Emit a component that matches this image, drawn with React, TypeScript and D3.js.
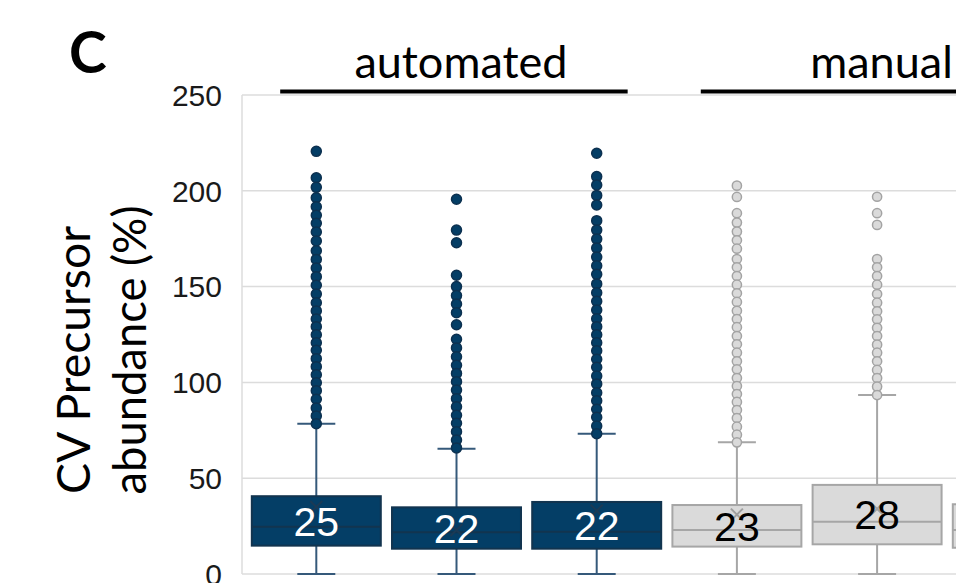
import React from 'react'
import * as d3 from 'd3'

// samples, left to right (the last one is cut off by the frame)
const categories = ['auto 1', 'auto 2', 'auto 3', 'manual 1', 'manual 2', 'manual 3']
const groupOf = ['automated', 'automated', 'automated', 'manual', 'manual', 'manual']
const groupNames = ['automated', 'manual']

const q1 = [14.8, 13.2, 13.2, 14.3, 15.5, 13.7]
const median = [24.7, 21.8, 22.1, 23.0, 27.3, 23.0]
const q3 = [40.6, 34.8, 37.6, 36.0, 46.5, 36.4]
const whiskerLow = [0, 0, 0, 0, 0, 0]
const whiskerHigh = [78.4, 65.4, 73.2, 68.7, 93.4, 70.0]
const means = [35, 23, 33, 31, 34, 28]
const boxLabels = ['25', '22', '22', '23', '28', '23']

const outliers = [
    [220.6, 206.8, 201.8, 196.4, 191.7, 187.2, 183.0, 178.5, 173.8, 168.7, 164.2, 159.7, 155.2, 150.7,
        146.1, 141.6, 137.3, 133.1, 129.1, 124.9, 120.7, 116.8, 112.4, 108.2, 104.0, 99.8, 95.7, 91.2,
        86.6, 82.5, 78.4],
    [195.6, 179.5, 172.9, 155.9, 150.0, 145.3, 140.9, 136.4, 130.1, 122.5, 118.0, 113.4, 108.9, 104.7,
        100.4, 96.0, 91.5, 87.3, 82.8, 78.7, 74.3, 69.9, 65.8],
    [219.6, 207.4, 203.0, 197.6, 192.6, 184.4, 179.5, 174.8, 170.1, 165.4, 160.9, 156.4, 151.4, 146.8,
        142.3, 137.8, 133.2, 129.1, 124.9, 120.7, 116.5, 112.1, 107.9, 103.3, 99.2, 94.6, 90.4, 86.0,
        81.8, 77.2, 73.2],
    [202.7, 196.8, 188.3, 183.4, 178.7, 174.2, 169.8, 164.4, 160.1, 155.5, 151.0, 146.5, 142.0, 137.4,
        133.1, 128.8, 124.2, 119.9, 115.5, 111.0, 106.8, 102.3, 98.1, 93.9, 89.8, 85.6, 81.4, 76.9,
        72.7, 68.7],
    [196.9, 188.3, 182.2, 164.4, 160.1, 155.5, 151.0, 146.1, 141.6, 137.1, 132.9, 128.5, 124.2, 119.7,
        115.5, 111.0, 106.5, 102.3, 97.8, 93.4],
    []
]

const yTicks = [0, 50, 100, 150, 200, 250]

const styles = {
    automated: { fill: '#043e66', stroke: '#12344f', line: '#35597a', mean: '#1b3a55', text: '#ffffff', dotFill: '#043e66', dotStroke: '#0d3150' },
    manual: { fill: '#dadada', stroke: '#a6a6a6', line: '#a6a6a6', mean: '#a0a0a0', text: '#000000', dotFill: '#dadada', dotStroke: '#a3a3a3' }
}

const W = 956
const H = 583

export default function App() {
    const y = d3.scaleLinear().domain([0, 250]).range([574, 95])
    const x = d3.scaleBand()
        .domain(categories)
        .range([242, 1091.6])
        .paddingInner(0.08)
        .paddingOuter(0.07)
    const bw = x.bandwidth()
    const cap = 19

    return (
        <svg width={W} height={H} style={{ position: 'fixed', left: 0, top: 0, background: '#fff' }}>
            {/* grid */}
            {yTicks.map(t => (
                <line key={'g' + t} x1={242} x2={W} y1={y(t)} y2={y(t)} stroke="#dcdcdc" strokeWidth={1.5} />
            ))}
            <line x1={242} x2={242} y1={y(250)} y2={y(0)} stroke="#dcdcdc" strokeWidth={1.5} />
            {yTicks.map(t => (
                <text key={'t' + t} x={222} y={y(t)} dy="0.36em" textAnchor="end"
                    fontFamily="'Liberation Sans', Arial, sans-serif" fontSize={30} fill="#1a1a1a">{t}</text>
            ))}

            {/* y label */}
            <g fontFamily="Lato, 'Open Sans', sans-serif" fontSize={46} fill="#000">
                <text transform="translate(90,360) rotate(-90)" textAnchor="middle"
                    textLength={268} lengthAdjust="spacingAndGlyphs">CV Precursor</text>
                <text transform="translate(146,350) rotate(-90)" textAnchor="middle"
                    textLength={289} lengthAdjust="spacingAndGlyphs">abundance (%)</text>
            </g>

            {/* panel letter */}
            <text x={69} y={73} fontFamily="Lato, sans-serif" fontWeight="bold" fontSize={57} fill="#000">C</text>

            {/* group headers */}
            {groupNames.map(g => {
                const cats = categories.filter((c, i) => groupOf[i] === g)
                const x1 = (x(cats[0]) as number) + bw * 0.22
                const x2 = (x(cats[cats.length - 1]) as number) + bw * 0.74
                return (
                    <g key={g}>
                        <line x1={x1} x2={x2} y1={91.5} y2={91.5} stroke="#000" strokeWidth={4} />
                        <text x={(x1 + x2) / 2 + 7} y={78} textAnchor="middle"
                            fontFamily="Lato, 'Open Sans', sans-serif" fontSize={45} fill="#000">{g}</text>
                    </g>
                )
            })}

            {/* boxes */}
            {categories.map((c, i) => {
                const s = styles[groupOf[i]]
                const x0 = x(c) as number
                const cx = x0 + bw / 2
                return (
                    <g key={c}>
                        <line x1={cx} x2={cx} y1={y(whiskerLow[i])} y2={y(q1[i])} stroke={s.line} strokeWidth={2} />
                        <line x1={cx} x2={cx} y1={y(q3[i])} y2={y(whiskerHigh[i])} stroke={s.line} strokeWidth={2} />
                        <line x1={cx - cap} x2={cx + cap} y1={y(whiskerLow[i])} y2={y(whiskerLow[i])} stroke={s.line} strokeWidth={2} />
                        <line x1={cx - cap} x2={cx + cap} y1={y(whiskerHigh[i])} y2={y(whiskerHigh[i])} stroke={s.line} strokeWidth={2} />
                        {outliers[i].map((v, k) => (
                            <circle key={k} cx={cx} cy={y(v)} r={groupOf[i] === 'automated' ? 5 : 4.6}
                                fill={s.dotFill} stroke={s.dotStroke} strokeWidth={1.5} />
                        ))}
                        <rect x={x0} y={y(q3[i])} width={bw} height={y(q1[i]) - y(q3[i])}
                            fill={s.fill} stroke={s.stroke} strokeWidth={2} />
                        <line x1={x0} x2={x0 + bw} y1={y(median[i])} y2={y(median[i])} stroke={s.stroke} strokeWidth={2} />
                        <path d={`M${cx - 6},${y(means[i]) - 6}L${cx + 6},${y(means[i]) + 6}M${cx + 6},${y(means[i]) - 6}L${cx - 6},${y(means[i]) + 6}`}
                            stroke={s.mean} strokeWidth={2} fill="none" />
                        <text x={cx} y={(y(q1[i]) + y(q3[i])) / 2} dy="0.36em" textAnchor="middle"
                            fontFamily="'Liberation Sans', Arial, sans-serif" fontSize={41} fill={s.text}>{boxLabels[i]}</text>
                    </g>
                )
            })}
        </svg>
    )
}
